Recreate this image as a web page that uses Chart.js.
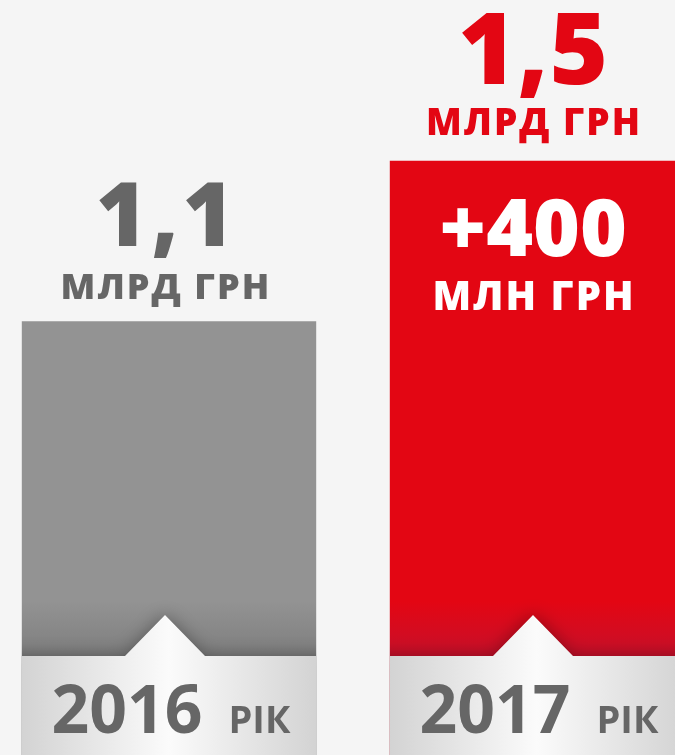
<!DOCTYPE html>
<html>
<head>
<meta charset="utf-8">
<script src="https://cdn.jsdelivr.net/npm/chart.js@4.4.1/dist/chart.umd.min.js"></script>
<style>
  html, body { margin: 0; padding: 0; width: 675px; height: 755px; overflow: hidden; background: #f5f5f5; }
  #wrap { position: absolute; left: -15px; top: 0; width: 736px; height: 755px; }
</style>
</head>
<body>
<div id="wrap"><canvas id="c" width="736" height="755"></canvas></div>
<script>
// ---- data ----
const categories = ['2016', '2017'];
const yearSuffix = 'РІК';
const values = [1.1, 1.5];
const valueLabels = ['1,1', '1,5'];
const unitLabel = 'МЛРД ГРН';
const increaseLabel = '+400';
const increaseUnit = 'МЛН ГРН';

// ---- styles ----
const barColors = ['#939393', '#e30613'];
const barDark = ['#7e7e7e', '#c8102a'];
const valueColors = ['#666666', '#e30613'];
const FONT = '"Open Sans", "Noto Sans", sans-serif';
const BAND_H = 99;

function barFill(ctx) {
  const i = ctx.dataIndex;
  const chart = ctx.chart;
  const area = chart.chartArea;
  if (!area) return barColors[i];
  const bandTop = area.bottom - BAND_H;
  const g = chart.ctx.createLinearGradient(0, bandTop - 55, 0, bandTop);
  g.addColorStop(0, barColors[i]);
  g.addColorStop(1, barDark[i]);
  return g;
}

function text(ctx, str, x, y, font, color, spacing) {
  ctx.font = font;
  ctx.fillStyle = color;
  ctx.letterSpacing = (spacing || 0) + 'px';
  ctx.textAlign = 'center';
  ctx.textBaseline = 'alphabetic';
  ctx.fillText(str, x + (spacing || 0) / 2, y);
  ctx.letterSpacing = '0px';
}

const decor = {
  id: 'decor',
  afterDatasetsDraw(chart) {
    const ctx = chart.ctx;
    const area = chart.chartArea;
    const bandTop = area.bottom - BAND_H;
    const meta = chart.getDatasetMeta(0);
    meta.data.forEach((bar, i) => {
      const half = bar.width / 2;
      const cx = bar.x;
      const left = cx - half, right = cx + half;
      // band with notch
      ctx.save();
      ctx.beginPath();
      ctx.rect(left, 0, bar.width, area.bottom + 20);
      ctx.clip();
      const g = ctx.createLinearGradient(left, 0, right, 0);
      g.addColorStop(0, '#d3d3d3');
      g.addColorStop(0.5, '#fbfbfb');
      g.addColorStop(1, '#d3d3d3');
      ctx.shadowColor = 'rgba(0,0,0,0.35)';
      ctx.shadowBlur = 18;
      ctx.fillStyle = g;
      ctx.beginPath();
      ctx.moveTo(left - 30, bandTop);
      ctx.lineTo(cx - 44, bandTop);
      ctx.lineTo(cx - 4, bandTop - 41);
      ctx.lineTo(cx + 36, bandTop);
      ctx.lineTo(right + 30, bandTop);
      ctx.lineTo(right + 30, area.bottom + 40);
      ctx.lineTo(left - 30, area.bottom + 40);
      ctx.closePath();
      ctx.fill();
      ctx.restore();

      // year label
      ctx.save();
      ctx.font = 'bold 66px ' + FONT;
      const w1 = ctx.measureText(categories[i]).width;
      ctx.font = 'bold 38px ' + FONT;
      const w2 = ctx.measureText(yearSuffix).width;
      const gap = 26;
      const total = w1 + gap + w2;
      const x0 = cx + 2 - total / 2;
      ctx.textAlign = 'left';
      ctx.fillStyle = '#666666';
      ctx.font = 'bold 66px ' + FONT;
      ctx.fillText(categories[i], x0, area.bottom - 22);
      ctx.font = 'bold 38px ' + FONT;
      ctx.fillText(yearSuffix, x0 + w1 + gap, area.bottom - 22);
      ctx.restore();

      // value labels
      ctx.save();
      if (i === 0) {
        text(ctx, valueLabels[i], cx - 4, bar.y - 75, '800 88px ' + FONT, valueColors[i], 4);
        text(ctx, unitLabel, cx - 4, bar.y - 22, '800 36px ' + FONT, valueColors[i], 2);
      } else {
        text(ctx, valueLabels[i], cx - 4, bar.y - 77, '800 100px ' + FONT, valueColors[i], 1);
        text(ctx, unitLabel, cx - 4, bar.y - 26, '800 37px ' + FONT, valueColors[i], 2);
        text(ctx, increaseLabel, cx - 4, bar.y + 95, '800 80px ' + FONT, '#ffffff', 0);
        text(ctx, increaseUnit, cx - 4, bar.y + 149, '800 40px ' + FONT, '#ffffff', 2);
      }
      ctx.restore();
    });
  }
};

new Chart(document.getElementById('c'), {
  type: 'bar',
  data: {
    labels: categories,
    datasets: [{
      data: values,
      backgroundColor: barFill,
      borderWidth: 0,
      categoryPercentage: 1,
      barPercentage: 0.8
    }]
  },
  options: {
    responsive: false,
    animation: false,
    layout: { padding: 0 },
    plugins: { legend: { display: false }, tooltip: { enabled: false } },
    scales: {
      x: { display: false },
      y: { display: false, min: 0.02, max: 1.9 }
    }
  },
  plugins: [decor]
});
</script>
</body>
</html>
